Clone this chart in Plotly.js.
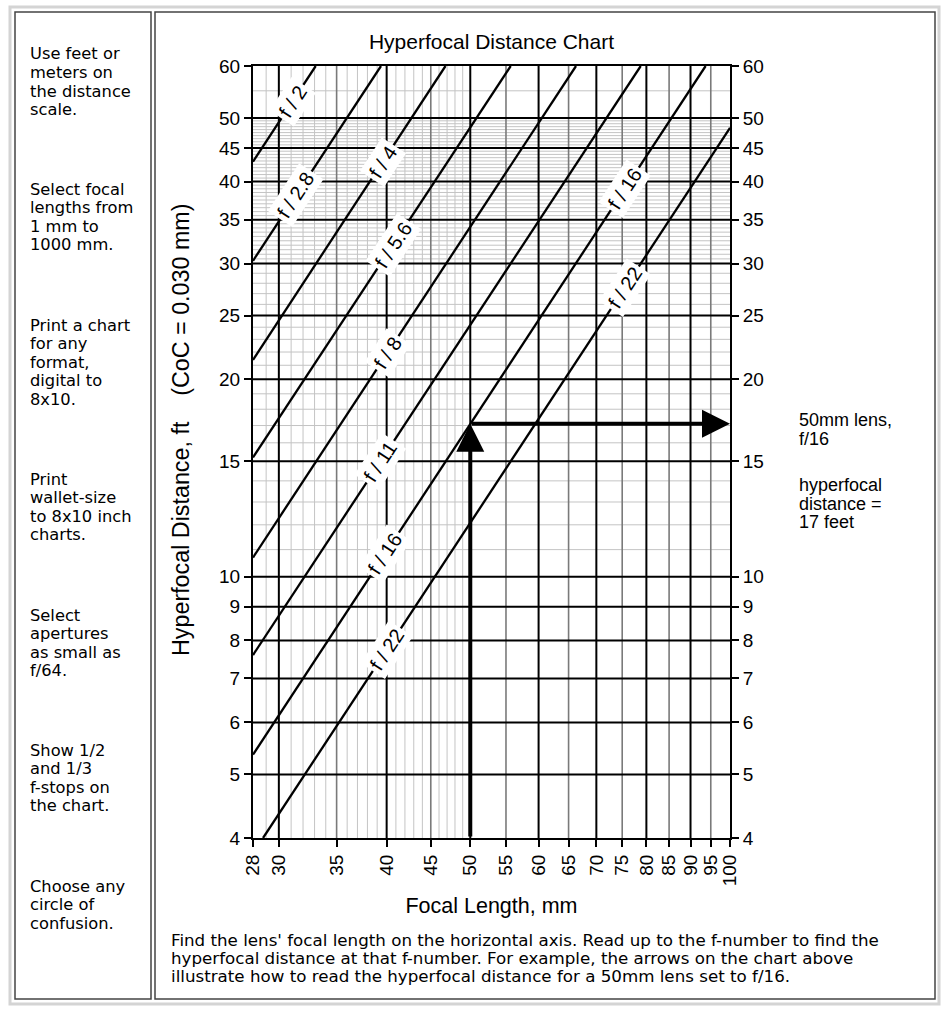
<!DOCTYPE html>
<html><head><meta charset="utf-8">
<script src="https://cdn.plot.ly/plotly-3.0.1.min.js"></script>
<style>html,body{margin:0;padding:0;background:#fff}#chart{width:942px;height:1024px}</style>
</head><body><div id="chart"></div>
<script>
// ---------- data ----------
const fNumberLabels = ['f / 2','f / 2.8','f / 4','f / 5.6','f / 8','f / 11','f / 16','f / 22'];
const lineFocalStart = [28, 28, 28, 28, 28, 28, 28, 28.76];
const lineDistStart  = [42.9, 30.3, 21.4, 15.2, 10.7, 7.6, 5.36, 4];
const lineFocalEnd   = [33.1, 39.4, 46.8, 55.7, 66.3, 78.8, 93.7, 100];
const lineDistEnd    = [60, 60, 60, 60, 60, 60, 60, 48.3];

// where each f-number label sits (index of line, focal length along it)
const labelLine  = [0, 1, 2, 3, 4, 5, 6, 7, 6, 7];
const labelFocal = [31.1, 31.4, 39.6, 40.7, 40.1, 39.3, 39.8, 40.0, 75.5, 75.5];

// worked example: 50 mm at f/16
const exampleFocal = 50;
const exampleDist = 17.1;
const exampleArrowEnd = 100;

const xTicks = [28,30,35,40,45,50,55,60,65,70,75,80,85,90,95,100];
const yTicks = [4,5,6,7,8,9,10,15,20,25,30,35,40,45,50,60];
const xRange = [28, 100];
const yRange = [4, 60];

const xGridMajor = [30,40,50,60,70,80,90];
const xGridMid   = [35,45,55,65,75,85,95];
const xGridMinor = [29,31,32,33,34,36,37,38,39,41,42,43,44,46,47,48,49];
const yGridMajor = [5,6,7,8,9,10,15,20,25,30,35,40,45,50];
const yGridMinor = [11,12,13,14,16,17,18,19,21,22,23,24,26,27,28,29,
  30.5,31,31.5,32,32.5,33,33.5,34,34.5,35.5,36,36.5,37,37.5,38,38.5,39,39.5,
  40.5,41,41.5,42,42.5,43,43.5,44,44.5,45.5,46,46.5,47,47.5,48,48.5,49,49.5,55];

const leftNotes = [
  ['Use feet or','meters on','the distance','scale.'],
  ['Select focal','lengths from','1 mm to','1000 mm.'],
  ['Print a chart','for any','format,','digital to','8x10.'],
  ['Print','wallet-size','to 8x10 inch','charts.'],
  ['Select','apertures','as small as','f/64.'],
  ['Show 1/2','and 1/3','f-stops on','the chart.'],
  ['Choose any','circle of','confusion.']
];
const captionLines = [
  "Find the lens' focal length on the horizontal axis. Read up to the f-number to find the",
  "hyperfocal distance at that f-number. For example, the arrows on the chart above",
  "illustrate how to read the hyperfocal distance for a 50mm lens set to f/16."
];
const exampleNote = [['50mm lens,','f/16'],['hyperfocal','distance =','17 feet']];
const yTitle = 'Hyperfocal Distance, ft\u00A0\u00A0\u00A0\u00A0(CoC = 0.030 mm)';

// ---------- layout geometry (pixels) ----------
const W = 942, H = 1024;
const M = {l: 253, r: 212, t: 66, b: 186};
const PW = W - M.l - M.r, PH = H - M.t - M.b;
const px2x = p => (p - M.l) / PW;
const py2y = p => (H - M.b - p) / PH;
const L = Math.log10;

const ARIAL = 'Liberation Sans, Arial, sans-serif';
const VERD = 'DejaVu Sans, Verdana, sans-serif';

function vLines(vals){const x=[],y=[];vals.forEach(v=>{x.push(v,v,null);y.push(yRange[0],yRange[1],null);});return {x,y};}
function hLines(vals){const x=[],y=[];vals.forEach(v=>{x.push(xRange[0],xRange[1],null);y.push(v,v,null);});return {x,y};}
function gridTrace(d,color,width){return {type:'scatter',mode:'lines',x:d.x,y:d.y,line:{color:color,width:width},hoverinfo:'skip',showlegend:false};}

const traces = [
  gridTrace(vLines(xGridMinor), '#c4c4c4', 1),
  gridTrace(hLines(yGridMinor), '#c4c4c4', 1),
  gridTrace(vLines(xGridMid), '#7a7a7a', 1.6),
  gridTrace(vLines(xGridMajor), '#000', 2),
  gridTrace(hLines(yGridMajor), '#000', 2)
];
fNumberLabels.forEach((name,i)=>{
  traces.push({type:'scatter',mode:'lines',name:name,
    x:[lineFocalStart[i], lineFocalEnd[i]], y:[lineDistStart[i], lineDistEnd[i]],
    line:{color:'#000', width:2.3}, hoverinfo:'skip', showlegend:false});
});
// invisible trace to carry the right-hand y axis
traces.push({type:'scatter',mode:'markers',x:[xRange[0]],y:[yRange[0]],yaxis:'y2',marker:{opacity:0},hoverinfo:'skip',showlegend:false});

// slope angle of the lines in pixel space
function lineAngle(i){
  const dx = (L(lineFocalEnd[i])-L(lineFocalStart[i]))/(L(xRange[1])-L(xRange[0]))*PW;
  const dy = (L(lineDistEnd[i])-L(lineDistStart[i]))/(L(yRange[1])-L(yRange[0]))*PH;
  return -Math.atan2(dy,dx)*180/Math.PI;
}

const annotations = [];
// arrows
annotations.push({x:L(exampleFocal), y:L(exampleDist), ax:L(exampleFocal), ay:L(yRange[0]),
  xref:'x', yref:'y', axref:'x', ayref:'y', text:'', showarrow:true, arrowhead:2, arrowsize:1.4,
  arrowwidth:4, arrowcolor:'#000', standoff:0, startstandoff:0});
annotations.push({x:L(exampleArrowEnd), y:L(exampleDist), ax:L(exampleFocal), ay:L(exampleDist),
  xref:'x', yref:'y', axref:'x', ayref:'y', text:'', showarrow:true, arrowhead:2, arrowsize:1.4,
  arrowwidth:4, arrowcolor:'#000', standoff:0, startstandoff:0});
// f-number labels
labelLine.forEach((li,k)=>{
  const f = labelFocal[k];
  const t = (L(f)-L(lineFocalStart[li]))/(L(lineFocalEnd[li])-L(lineFocalStart[li]));
  const ly = L(lineDistStart[li]) + t*(L(lineDistEnd[li])-L(lineDistStart[li]));
  annotations.push({x:L(f), y:ly, xref:'x', yref:'y', text:fNumberLabels[li], showarrow:false,
    textangle:lineAngle(li), bgcolor:'#fff', borderpad:3,
    font:{family:ARIAL, size:20, color:'#000'}});
});
function textBlock(lines, xpx, ypx, step, font){
  lines.forEach((s,k)=>annotations.push({xref:'paper', yref:'paper', x:px2x(xpx), y:py2y(ypx + k*step),
    xanchor:'left', yanchor:'middle', align:'left', showarrow:false, text:s, font:font}));
}
// y axis title (placed off-centre as in the reference)
annotations.push({xref:'paper', yref:'paper', x:px2x(181), y:py2y(430), xanchor:'center', yanchor:'middle',
  textangle:-90, showarrow:false, text:yTitle, font:{family:ARIAL, size:23.3, color:'#000'}});
// left notes
const noteCenters = [54, 189, 325, 479, 615, 750, 886];
leftNotes.forEach((lines,i)=>textBlock(lines, 28, noteCenters[i], 18.6, {family:VERD, size:16.3, color:'#000'}));
// caption
textBlock(captionLines, 169, 940, 18.2, {family:VERD, size:16.7, color:'#000'});
// right-hand note
textBlock(exampleNote[0], 797, 420, 18.6, {family:ARIAL, size:18, color:'#000'});
textBlock(exampleNote[1], 797, 485, 18.6, {family:ARIAL, size:18, color:'#000'});

const shapes = [
  {type:'rect', xref:'paper', yref:'paper', x0:px2x(10), x1:px2x(939), y0:py2y(1004), y1:py2y(7), line:{color:'#d4d4d4', width:3}},
  {type:'rect', xref:'paper', yref:'paper', x0:px2x(15), x1:px2x(151), y0:py2y(999), y1:py2y(12), line:{color:'#444', width:1.5}},
  {type:'rect', xref:'paper', yref:'paper', x0:px2x(155), x1:px2x(935), y0:py2y(999), y1:py2y(12), line:{color:'#444', width:1.5}}
];

const yAxisCommon = {type:'log', range:[L(yRange[0]), L(yRange[1])], tickvals:yTicks, ticktext:yTicks.map(String),
  ticks:'outside', ticklen:7, tickwidth:2, tickcolor:'#000', showline:true, linewidth:2, linecolor:'#000',
  showgrid:false, zeroline:false, tickfont:{family:ARIAL, size:19, color:'#000'}, fixedrange:true};

const layout = {
  width:W, height:H, margin:M, paper_bgcolor:'#fff', plot_bgcolor:'#fff', showlegend:false,
  title:{text:'Hyperfocal Distance Chart', x:0.5, xref:'paper', y:1-42/H, yref:'container', yanchor:'middle',
    font:{family:ARIAL, size:21, color:'#000'}},
  xaxis:{type:'log', range:[L(xRange[0]), L(xRange[1])], tickvals:xTicks, ticktext:xTicks.map(String), tickangle:-90,
    ticks:'outside', ticklen:7, tickwidth:2, tickcolor:'#000', showline:true, linewidth:2, linecolor:'#000', mirror:true,
    showgrid:false, zeroline:false, tickfont:{family:ARIAL, size:19, color:'#000'}, fixedrange:true,
    title:{text:'Focal Length, mm', font:{family:ARIAL, size:21.5, color:'#000'}, standoff:13}},
  yaxis:Object.assign({}, yAxisCommon, {mirror:true}),
  yaxis2:Object.assign({}, yAxisCommon, {overlaying:'y', side:'right'}),
  annotations:annotations,
  shapes:shapes
};

Plotly.newPlot('chart', traces, layout, {staticPlot:true, displayModeBar:false});
</script>
</body></html>
